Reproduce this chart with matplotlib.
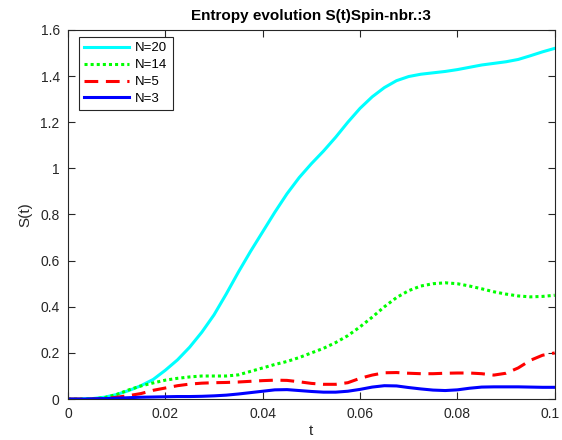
import numpy as np
import matplotlib.pyplot as plt
from matplotlib.ticker import FormatStrFormatter
from matplotlib.transforms import ScaledTranslation

t = np.linspace(0, 0.1, 41)

s_n20 = [0, 0, 0.002, 0.008, 0.02, 0.037, 0.058, 0.085, 0.125, 0.17, 0.225, 0.29,
         0.365, 0.455, 0.55, 0.64, 0.725, 0.81, 0.89, 0.96, 1.02, 1.075, 1.135, 1.20,
         1.26, 1.31, 1.35, 1.38, 1.398, 1.408, 1.414, 1.42, 1.428, 1.438, 1.448, 1.455,
         1.462, 1.472, 1.488, 1.505, 1.52]
s_n14 = [0, 0, 0.001, 0.006, 0.02, 0.04, 0.057, 0.07, 0.082, 0.09, 0.096, 0.10,
         0.10, 0.10, 0.105, 0.12, 0.135, 0.15, 0.163, 0.18, 0.20, 0.22, 0.245, 0.275,
         0.313, 0.355, 0.40, 0.44, 0.47, 0.49, 0.50, 0.504, 0.50, 0.49, 0.478, 0.465,
         0.455, 0.447, 0.443, 0.445, 0.45]
s_n5 = [0, 0, 0, 0.002, 0.008, 0.015, 0.024, 0.038, 0.048, 0.058, 0.065, 0.069,
        0.071, 0.072, 0.074, 0.077, 0.08, 0.082, 0.081, 0.075, 0.068, 0.064, 0.064, 0.071,
        0.09, 0.104, 0.114, 0.115, 0.112, 0.11, 0.11, 0.112, 0.113, 0.113, 0.11, 0.104,
        0.112, 0.135, 0.168, 0.19, 0.2]
s_n3 = [0, 0, 0.001, 0.002, 0.004, 0.006, 0.008, 0.009, 0.01, 0.011, 0.011, 0.012,
        0.014, 0.017, 0.022, 0.028, 0.034, 0.04, 0.041, 0.037, 0.033, 0.03, 0.03, 0.034,
        0.042, 0.052, 0.058, 0.057, 0.05, 0.044, 0.039, 0.037, 0.04, 0.047, 0.052, 0.053,
        0.053, 0.053, 0.052, 0.051, 0.051]

plt.rcParams['font.family'] = ['Liberation Sans', 'DejaVu Sans']

fig = plt.figure(figsize=(5.62, 4.40), dpi=100)
ax = fig.add_axes([0.121, 0.093, 0.866, 0.839])

ax.plot(t, s_n20, color='cyan', lw=2.2, label='N=20')
ax.plot(t, s_n14, color='lime', lw=2.2, ls=(0, (1, 1)), label='N=14')
ax.plot(t, s_n5, color='red', lw=2.2, ls=(0, (4.5, 2.5)), label='N=5')
ax.plot(t, s_n3, color='blue', lw=2.2, label='N=3')

ax.set_xlim(0, 0.1)
ax.set_ylim(0, 1.6)
ax.set_xticks(np.arange(0, 0.101, 0.02))
ax.set_yticks(np.arange(0, 1.61, 0.2))
ax.xaxis.set_major_formatter(FormatStrFormatter('%g'))
ax.yaxis.set_major_formatter(FormatStrFormatter('%g'))
ax.tick_params(direction='in', top=True, right=True, length=5, width=0.8,
               colors='#262626', labelsize=10, pad=6)
for sp in ax.spines.values():
    sp.set_color('#262626')
    sp.set_linewidth(0.8)

# keep the last x tick label inside the figure
last = ax.get_xticklabels()[-1]
last.set_transform(last.get_transform() + ScaledTranslation(-0.05, 0, fig.dpi_scale_trans))

ax.set_xlabel('t', fontsize=11, color='#262626', labelpad=2)
ax.set_ylabel('S(t)', fontsize=11, color='#262626', labelpad=6)
ax.set_title('Entropy evolution S(t)Spin-nbr.:3', fontsize=11, fontweight='bold', pad=7)

leg = ax.legend(loc='upper left', fontsize=9.5, handlelength=3.4, handletextpad=0.45,
                labelspacing=0.35, borderpad=0.4, fancybox=False, framealpha=1,
                bbox_to_anchor=(0.0226, 0.981), borderaxespad=0)
leg.get_frame().set_edgecolor('#262626')
leg.get_frame().set_linewidth(0.8)

fig.savefig('out.png', dpi=100)
